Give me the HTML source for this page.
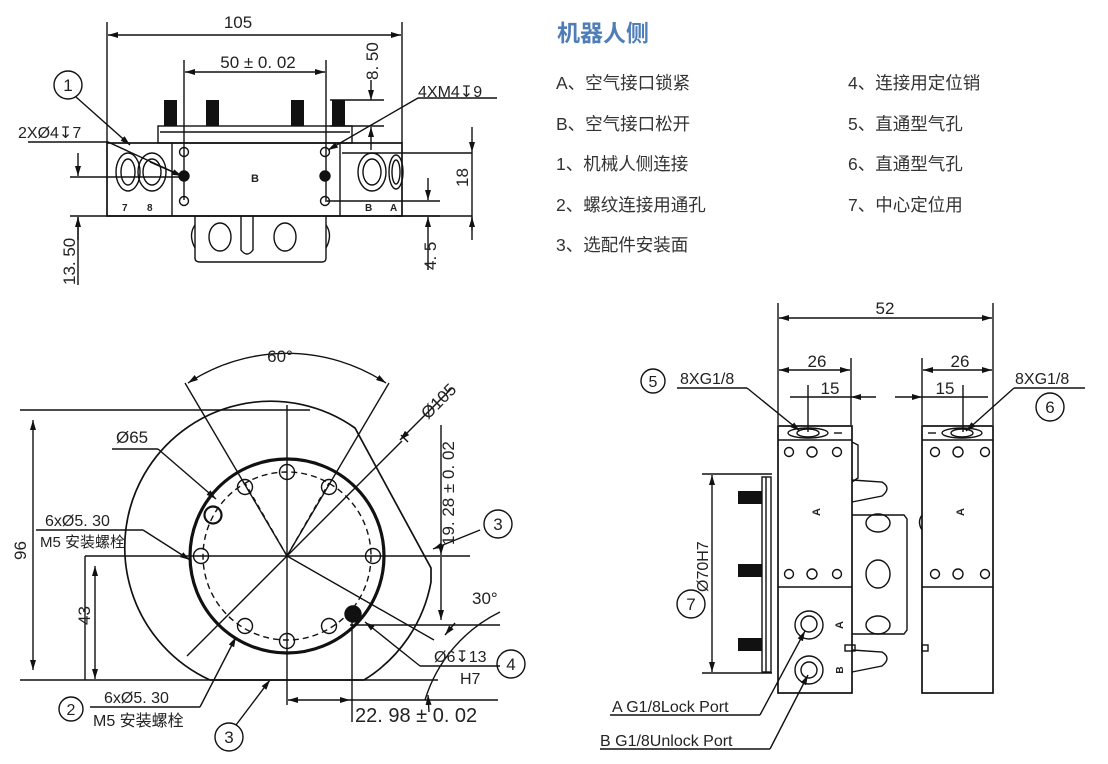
<!DOCTYPE html>
<html><head><meta charset="utf-8"><style>
html,body{margin:0;padding:0;background:#fff;width:1108px;height:764px;overflow:hidden}
svg{display:block}
text{font-family:"Liberation Sans","Noto Sans CJK SC",sans-serif;fill:#222}
.cn{font-family:"Liberation Sans","Noto Sans CJK SC",sans-serif;font-size:17.5px;fill:#333}
</style></head><body>
<svg width="1108" height="764" viewBox="0 0 1108 764" xmlns="http://www.w3.org/2000/svg">
<defs>
<marker id="ar" markerWidth="10" markerHeight="6" refX="10" refY="3" orient="auto" markerUnits="userSpaceOnUse"><path d="M0,0 L10,3 L0,6 z" fill="#111"/></marker>
<marker id="al" markerWidth="10" markerHeight="6" refX="0" refY="3" orient="auto" markerUnits="userSpaceOnUse"><path d="M10,0 L0,3 L10,6 z" fill="#111"/></marker>
</defs>
<g stroke="#111" fill="none" stroke-width="1.4">
<line x1="107" y1="22" x2="107" y2="143"/><line x1="402" y1="22" x2="402" y2="143"/>
<line x1="108" y1="35" x2="401" y2="35" marker-start="url(#al)" marker-end="url(#ar)"/>
<line x1="184" y1="60" x2="184" y2="200"/><line x1="326" y1="60" x2="326" y2="200"/>
<line x1="185" y1="72" x2="325" y2="72" marker-start="url(#al)" marker-end="url(#ar)"/>
<rect x="107" y="143" width="295" height="73" stroke-width="1.7"/>
<line x1="172" y1="143" x2="172" y2="216"/><line x1="340" y1="143" x2="340" y2="216"/>
<rect x="158" y="126" width="194" height="17"/><line x1="160" y1="132" x2="350" y2="132"/>
<g fill="#111" stroke="none"><rect x="164" y="100" width="13" height="26"/><rect x="206" y="100" width="13" height="26"/><rect x="291" y="100" width="13" height="26"/><rect x="332" y="100" width="13" height="26"/></g>
<path d="M195,216 L195,258 Q195,262 200,262 L322,262 Q326,262 326,258 L326,216"/>
<path d="M195,225 Q188,235 195,248"/><path d="M326,225 Q333,235 326,248"/>
<ellipse cx="220" cy="237" rx="11" ry="14"/><ellipse cx="285" cy="237" rx="11" ry="14"/>
<path d="M241,216 L241,250 Q247,258 253,250 L253,216"/>
<ellipse cx="128" cy="172" rx="12" ry="19"/><ellipse cx="128" cy="172" rx="7" ry="13"/>
<ellipse cx="152" cy="172" rx="14" ry="19"/><ellipse cx="152" cy="172" rx="9" ry="13"/>
<ellipse cx="372" cy="172" rx="14" ry="19"/><ellipse cx="372" cy="172" rx="9" ry="13"/>
<ellipse cx="396" cy="172" rx="7" ry="17"/><ellipse cx="396" cy="172" rx="4" ry="12"/>
<circle cx="184" cy="152" r="4.5"/><circle cx="184" cy="201" r="4.5"/><circle cx="184" cy="176" r="5" fill="#111"/>
<circle cx="325" cy="152" r="4.5"/><circle cx="325" cy="201" r="4.5"/><circle cx="325" cy="176" r="5" fill="#111"/>
<line x1="325" y1="201" x2="440" y2="201"/>
<line x1="70" y1="177" x2="180" y2="177"/><line x1="70" y1="216" x2="440" y2="216"/>
<line x1="78" y1="153" x2="78" y2="176" marker-end="url(#ar)"/><line x1="78" y1="240" x2="78" y2="217" marker-end="url(#ar)"/><line x1="78" y1="217" x2="78" y2="285"/>
<line x1="330" y1="100" x2="384" y2="100"/><line x1="330" y1="126" x2="384" y2="126"/>
<line x1="371" y1="80" x2="371" y2="100" marker-end="url(#ar)"/><line x1="371" y1="150" x2="371" y2="127" marker-end="url(#ar)"/>
<line x1="342" y1="153" x2="472" y2="153"/><line x1="395" y1="216" x2="472" y2="216"/>
<line x1="472" y1="127" x2="472" y2="152" marker-end="url(#ar)"/><line x1="472" y1="240" x2="472" y2="217" marker-end="url(#ar)"/><line x1="472" y1="152" x2="472" y2="230"/>
<line x1="428" y1="178" x2="428" y2="200" marker-end="url(#ar)"/><line x1="428" y1="270" x2="428" y2="217" marker-end="url(#ar)"/>
<circle cx="68" cy="85" r="14"/>
<line x1="76" y1="97" x2="130" y2="145" marker-end="url(#ar)"/>
<path d="M28,142 L108,142 L182,176" /><line x1="150" y1="162" x2="182" y2="176" marker-end="url(#ar)"/>
<path d="M497,98 L418,98 L328,150" marker-end="url(#ar)"/>
<path d="M210,680 L364,680 A146,146 0 0 0 431,582 L431,568 L355,428 A146,146 0 1 0 210,680" stroke-width="1.7"/>
<circle cx="287" cy="556" r="97" stroke-width="3.2"/>
<circle cx="287" cy="556" r="84" stroke-dasharray="6,4"/>
<line x1="287" y1="405" x2="287" y2="705"/>
<line x1="85" y1="556" x2="470" y2="556"/>
<line x1="185" y1="383" x2="287" y2="556"/><line x1="389" y1="383" x2="287" y2="556"/>
<line x1="287" y1="556" x2="245" y2="483" stroke-dasharray="5,4"/><line x1="287" y1="556" x2="329" y2="483" stroke-dasharray="5,4"/>
<line x1="287" y1="556" x2="187" y2="656"/><line x1="287" y1="556" x2="402" y2="441"/>
<line x1="287" y1="556" x2="434" y2="640"/>
<path d="M188,383 A180,180 0 0 1 386,383" marker-start="url(#al)" marker-end="url(#ar)"/>
<line x1="400" y1="440" x2="452" y2="388" marker-start="url(#al)"/>
<line x1="408" y1="442" x2="401" y2="435" /><line x1="20" y1="410" x2="310" y2="410"/>
<line x1="20" y1="680" x2="438" y2="680"/>
<line x1="33" y1="420" x2="33" y2="670" marker-start="url(#al)" marker-end="url(#ar)"/>
<line x1="85" y1="556" x2="85" y2="680"/><line x1="95" y1="566" x2="95" y2="679" marker-start="url(#al)" marker-end="url(#ar)"/>
<line x1="441" y1="425" x2="441" y2="555" marker-end="url(#ar)"/><line x1="441" y1="620" x2="441" y2="557" marker-start="url(#al)"/>
<line x1="350" y1="625" x2="500" y2="625"/>
<line x1="352" y1="612" x2="352" y2="722"/>
<line x1="288" y1="700" x2="350" y2="700" marker-start="url(#al)" marker-end="url(#ar)"/>
<line x1="350" y1="700" x2="498" y2="700"/>
<path d="M500,612 A145,145 0 0 0 425,700" /><line x1="455" y1="623" x2="445" y2="635" marker-end="url(#ar)"/><line x1="429" y1="712" x2="428" y2="695" marker-end="url(#ar)"/>
<g>
<circle cx="287" cy="472" r="7.5"/><circle cx="245" cy="487" r="7.5"/><circle cx="329" cy="487" r="7.5"/>
<circle cx="201" cy="556" r="7.5"/><circle cx="373" cy="556" r="7.5"/>
<circle cx="245" cy="626" r="7.5"/><circle cx="329" cy="626" r="7.5"/><circle cx="287" cy="641" r="7.5"/>
<circle cx="213" cy="515" r="8.5" stroke-width="2.2"/>
<circle cx="353" cy="614" r="8" fill="#111"/>
</g>
<line x1="112" y1="449" x2="158" y2="449"/><line x1="158" y1="449" x2="216" y2="499" marker-end="url(#ar)"/>
<line x1="36" y1="530" x2="143" y2="530"/><line x1="143" y1="530" x2="190" y2="560" marker-end="url(#ar)"/>
<line x1="90" y1="707" x2="200" y2="707"/><line x1="200" y1="707" x2="236" y2="637" marker-end="url(#ar)"/>
<line x1="236" y1="725" x2="270" y2="680" marker-end="url(#ar)"/>
<line x1="480" y1="530" x2="433" y2="549" marker-end="url(#ar)"/>
<line x1="420" y1="666" x2="500" y2="666"/><line x1="420" y1="666" x2="365" y2="622" marker-end="url(#ar)"/>
<circle cx="498" cy="524" r="14"/><circle cx="511" cy="664" r="14"/><circle cx="71" cy="709" r="12"/><circle cx="229" cy="737" r="14"/>
<line x1="778" y1="303" x2="778" y2="425"/><line x1="993" y1="303" x2="993" y2="425"/>
<line x1="779" y1="318" x2="992" y2="318" marker-start="url(#al)" marker-end="url(#ar)"/>
<line x1="851" y1="358" x2="851" y2="425"/><line x1="922" y1="358" x2="922" y2="425"/>
<line x1="779" y1="370" x2="850" y2="370" marker-start="url(#al)" marker-end="url(#ar)"/>
<line x1="923" y1="370" x2="992" y2="370" marker-start="url(#al)" marker-end="url(#ar)"/>
<line x1="808" y1="385" x2="808" y2="432"/><line x1="963" y1="385" x2="963" y2="432"/>
<line x1="790" y1="397" x2="851" y2="397"/><line x1="851" y1="397" x2="876" y2="397" marker-start="url(#al)"/>
<line x1="895" y1="397" x2="922" y2="397" marker-end="url(#ar)"/><line x1="922" y1="397" x2="988" y2="397"/>
<rect x="778" y="426" width="74" height="267" stroke-width="1.7"/>
<line x1="778" y1="440" x2="852" y2="440"/><line x1="778" y1="587" x2="852" y2="587"/>
<rect x="922" y="426" width="71" height="267" stroke-width="1.7"/>
<line x1="922" y1="440" x2="993" y2="440"/><line x1="922" y1="587" x2="993" y2="587"/>
<ellipse cx="808" cy="433" rx="20" ry="5"/><ellipse cx="808" cy="433" rx="11" ry="4"/><line x1="834" y1="433" x2="842" y2="433"/>
<ellipse cx="962" cy="433" rx="20" ry="5"/><ellipse cx="962" cy="433" rx="11" ry="4"/><line x1="928" y1="433" x2="936" y2="433"/>
<g>
<circle cx="789" cy="452" r="4.5"/><circle cx="812" cy="452" r="5"/><circle cx="837" cy="452" r="4.5"/>
<circle cx="789" cy="574" r="4.5"/><circle cx="812" cy="574" r="5"/><circle cx="837" cy="574" r="4.5"/>
<circle cx="935" cy="452" r="4.5"/><circle cx="958" cy="452" r="5"/><circle cx="985" cy="452" r="4.5"/>
<circle cx="935" cy="574" r="4.5"/><circle cx="958" cy="574" r="5"/><circle cx="985" cy="574" r="4.5"/>
</g>
<circle cx="809" cy="625" r="14"/><circle cx="809" cy="624" r="8"/>
<circle cx="809" cy="670" r="14"/><circle cx="809" cy="670" r="8"/>
<path d="M852,442 L858,445 L858,478 L852,482"/>
<path d="M852,480 L882,482 Q892,488 882,496 L852,502"/>
<path d="M852,515 L904,515 L907,519 L907,630 L904,634 L852,634"/>
<ellipse cx="878" cy="523" rx="12" ry="9"/><ellipse cx="878" cy="574" rx="12" ry="14"/><ellipse cx="878" cy="625" rx="12" ry="9"/>
<path d="M852,650 L882,652 Q892,658 882,666 L852,672"/>
<rect x="845" y="645" width="10" height="6"/><rect x="922" y="645" width="6" height="6"/>
<path d="M922,515 Q917,522 922,530"/>
<rect x="762" y="477" width="9" height="195"/><line x1="766" y1="477" x2="766" y2="672"/>
<g fill="#111" stroke="none"><rect x="738" y="491" width="24" height="13"/><rect x="738" y="564" width="24" height="13"/><rect x="738" y="638" width="24" height="13"/></g>
<line x1="702" y1="474" x2="772" y2="474"/><line x1="702" y1="673" x2="772" y2="673"/>
<line x1="712" y1="475" x2="712" y2="672" marker-start="url(#al)" marker-end="url(#ar)"/>
<circle cx="691" cy="604" r="14"/>
<circle cx="653" cy="381" r="12"/><circle cx="1050" cy="407" r="14"/>
<line x1="677" y1="388" x2="747" y2="388"/><line x1="747" y1="388" x2="800" y2="431" marker-end="url(#ar)"/>
<line x1="1014" y1="388" x2="1085" y2="388"/><line x1="1014" y1="388" x2="966" y2="431" marker-end="url(#ar)"/>
<line x1="610" y1="715" x2="760" y2="715"/><line x1="760" y1="715" x2="805" y2="631" marker-end="url(#ar)"/>
<line x1="600" y1="749" x2="770" y2="749"/><line x1="770" y1="749" x2="808" y2="675" marker-end="url(#ar)"/>
</g>
<g font-size="16">
<text x="238" y="28" text-anchor="middle" font-size="17">105</text>
<text x="258" y="68" text-anchor="middle" font-size="17">50 ± 0. 02</text>
<text x="68" y="91" text-anchor="middle" font-size="17">1</text>
<text x="18" y="138" font-size="16">2XØ4↧7</text>
<text x="418" y="97" font-size="16">4XM4↧9</text>
<text x="255" y="182" text-anchor="middle" font-size="11" font-weight="bold">B</text>
<text x="122" y="211" font-size="10" font-weight="bold">7</text><text x="147" y="211" font-size="10" font-weight="bold">8</text>
<text x="365" y="211" font-size="10" font-weight="bold">B</text><text x="390" y="211" font-size="10" font-weight="bold">A</text>
<text transform="translate(378,80) rotate(-90)" font-size="17">8. 50</text>
<text transform="translate(468,187) rotate(-90)" font-size="17">18</text>
<text transform="translate(75,285) rotate(-90)" font-size="17">13. 50</text>
<text transform="translate(436,270) rotate(-90)" font-size="17">4. 5</text>
<text x="280" y="362" text-anchor="middle" font-size="17">60°</text>
<text transform="translate(428,420) rotate(-45)" font-size="17">Ø105</text>
<text x="116" y="443" font-size="17">Ø65</text>
<text x="45" y="526" font-size="16">6xØ5. 30</text>
<text x="40" y="547" font-size="15">M5 安装螺栓</text>
<text transform="translate(26,560) rotate(-90)" font-size="17">96</text>
<text transform="translate(90,625) rotate(-90)" font-size="17">43</text>
<text transform="translate(454,545) rotate(-90)" font-size="17">19. 28 ± 0. 02</text>
<text x="472" y="604" font-size="17">30°</text>
<text x="434" y="662" font-size="16">Ø6↧13</text>
<text x="460" y="684" font-size="16">H7</text>
<text x="498" y="530" text-anchor="middle" font-size="17">3</text>
<text x="511" y="670" text-anchor="middle" font-size="17">4</text>
<text x="71" y="715" text-anchor="middle" font-size="16">2</text>
<text x="229" y="743" text-anchor="middle" font-size="17">3</text>
<text x="104" y="703" font-size="16">6xØ5. 30</text>
<text x="93" y="726" font-size="16">M5 安装螺栓</text>
<text x="355" y="722" font-size="20">22. 98 ± 0. 02</text>
<text x="885" y="314" text-anchor="middle" font-size="17">52</text>
<text x="817" y="367" text-anchor="middle" font-size="17">26</text>
<text x="960" y="367" text-anchor="middle" font-size="17">26</text>
<text x="830" y="394" text-anchor="middle" font-size="17">15</text>
<text x="945" y="394" text-anchor="middle" font-size="17">15</text>
<text x="653" y="387" text-anchor="middle" font-size="16">5</text>
<text x="1050" y="413" text-anchor="middle" font-size="17">6</text>
<text x="680" y="384" font-size="16">8XG1/8</text>
<text x="1015" y="384" font-size="16">8XG1/8</text>
<text x="691" y="610" text-anchor="middle" font-size="17">7</text>
<text transform="translate(708,592) rotate(-90)" font-size="16">Ø70H7</text>
<text x="612" y="712" font-size="16">A G1/8Lock Port</text>
<text x="600" y="746" font-size="16">B G1/8Unlock Port</text>
<text transform="translate(820,512) rotate(-90)" font-size="11" font-weight="bold" text-anchor="middle">A</text>
<text transform="translate(964,512) rotate(-90)" font-size="11" font-weight="bold" text-anchor="middle">A</text>
<text transform="translate(843,625) rotate(-90)" font-size="11" font-weight="bold" text-anchor="middle">A</text>
<text transform="translate(843,670) rotate(-90)" font-size="10" font-weight="bold" text-anchor="middle">B</text>
</g>
<text x="557" y="41" font-size="23" font-weight="bold" style="fill:#4f7db8;font-family:'Liberation Sans','Noto Sans CJK SC',sans-serif">机器人侧</text>
<text class="cn" x="556" y="89">A、空气接口锁紧</text>
<text class="cn" x="556" y="130">B、空气接口松开</text>
<text class="cn" x="556" y="170">1、机械人侧连接</text>
<text class="cn" x="556" y="211">2、螺纹连接用通孔</text>
<text class="cn" x="556" y="251">3、选配件安装面</text>
<text class="cn" x="848" y="89">4、连接用定位销</text>
<text class="cn" x="848" y="130">5、直通型气孔</text>
<text class="cn" x="848" y="170">6、直通型气孔</text>
<text class="cn" x="848" y="211">7、中心定位用</text>
</svg>
</body></html>
